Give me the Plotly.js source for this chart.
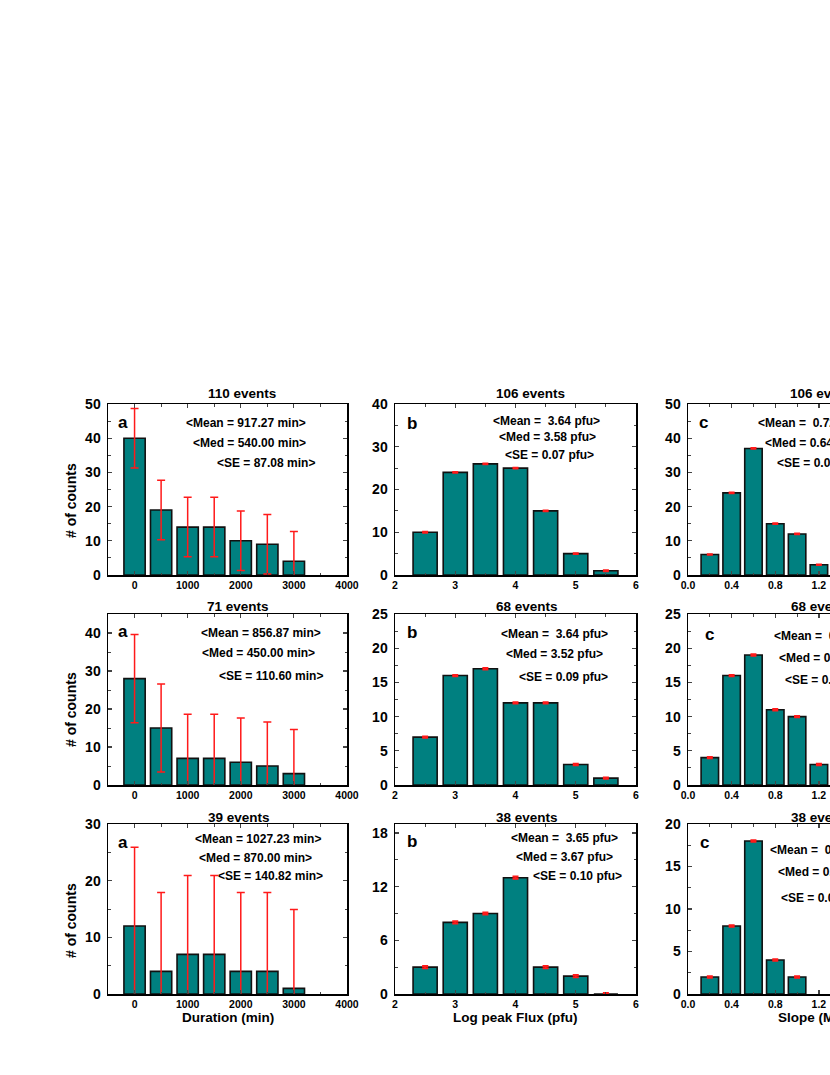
<!DOCTYPE html>
<html>
<head>
<meta charset="utf-8">
<script src="https://cdn.plot.ly/plotly-3.0.1.min.js"></script>
<style>
    html, body { margin: 0; padding: 0; overflow: hidden; background: #fff; }
</style>
</head>
<body>
<div id="chart" style="width:960px;height:1075px"></div>
<script>
// bin centres
var durationBins = [0, 500, 1000, 1500, 2000, 2500, 3000];
var fluxBins = [2.5, 3, 3.5, 4, 4.5, 5, 5.5];
var slopeBins = [0.2, 0.4, 0.6, 0.8, 1.0, 1.2, 1.4];

// row 1 (all events)
var durationCounts1 = [40, 19, 14, 14, 10, 9, 4];
var durationErr1 = [8.7, 8.7, 8.7, 8.7, 8.7, 8.7, 8.7];
var fluxCounts1 = [10, 24, 26, 25, 15, 5, 1];
var fluxErr1 = [0.1, 0.1, 0.1, 0.1, 0.1, 0.1, 0.1];
var slopeCounts1 = [6, 24, 37, 15, 12, 3, 4];
var slopeErr1 = [0.1, 0.1, 0.1, 0.1, 0.1, 0.1, 0.1];

// row 2
var durationCounts2 = [28, 15, 7, 7, 6, 5, 3];
var durationErr2 = [11.6, 11.6, 11.6, 11.6, 11.6, 11.6, 11.6];
var fluxCounts2 = [7, 16, 17, 12, 12, 3, 1];
var fluxErr2 = [0.1, 0.1, 0.1, 0.1, 0.1, 0.1, 0.1];
var slopeCounts2 = [4, 16, 19, 11, 10, 3];
var slopeErr2 = [0.1, 0.1, 0.1, 0.1, 0.1, 0.1];

// row 3
var durationCounts3 = [12, 4, 7, 7, 4, 4, 1];
var durationErr3 = [13.9, 13.9, 13.9, 13.9, 13.9, 13.9, 13.9];
var fluxCounts3 = [3, 8, 9, 13, 3, 2, 0];
var fluxErr3 = [0.12, 0.12, 0.12, 0.12, 0.12, 0.12, 0.12];
var slopeCounts3 = [2, 8, 18, 4, 2];
var slopeErr3 = [0.1, 0.1, 0.1, 0.1, 0.1];

var panelTitles = ['110 events', '106 events', '106 events',
                   '71 events', '68 events', '68 events',
                   '39 events', '38 events', '38 events'];
var panelLetters = ['a', 'b', 'c'];
var statTexts = [
    ['<Mean = 917.27 min>', '<Med = 540.00 min>', '<SE = 87.08 min>'],
    ['<Mean =  3.64 pfu>', '<Med = 3.58 pfu>', '<SE = 0.07 pfu>'],
    ['<Mean =  0.72 MHz/min>', '<Med = 0.64 MHz/min>', '<SE = 0.04 MHz/min>'],
    ['<Mean = 856.87 min>', '<Med = 450.00 min>', '<SE = 110.60 min>'],
    ['<Mean =  3.64 pfu>', '<Med = 3.52 pfu>', '<SE = 0.09 pfu>'],
    ['<Mean =  0.73 MHz/min>', '<Med = 0.62 MHz/min>', '<SE = 0.05 MHz/min>'],
    ['<Mean = 1027.23 min>', '<Med = 870.00 min>', '<SE = 140.82 min>'],
    ['<Mean =  3.65 pfu>', '<Med = 3.67 pfu>', '<SE = 0.10 pfu>'],
    ['<Mean =  0.58 MHz/min>', '<Med = 0.56 MHz/min>', '<SE = 0.03 MHz/min>']
];
var xTitles = ['Duration (min)', 'Log peak Flux (pfu)', 'Slope (MHz/min)'];
var yTitle = '# of counts';

var W = 960, H = 1075;
function fx(p) { return p / W; }
function fy(p) { return 1 - p / H; }
function esc(s) { return s.replace(/</g, '&lt;').replace(/>/g, '&gt;'); }

var FONT = 'Arial, "Liberation Sans", sans-serif';

// pixel boxes of the plot areas
var colX = [[108, 347], [395, 636], [688, 928]];
var rowY = [[404, 575], [614, 785], [824, 994]];

var panels = [
    {x: durationBins, y: durationCounts1, err: durationErr1, yr: [0, 50], dy: 10},
    {x: fluxBins, y: fluxCounts1, err: fluxErr1, yr: [0, 40], dy: 10},
    {x: slopeBins, y: slopeCounts1, err: slopeErr1, yr: [0, 50], dy: 10},
    {x: durationBins, y: durationCounts2, err: durationErr2, yr: [0, 45], dy: 10},
    {x: fluxBins, y: fluxCounts2, err: fluxErr2, yr: [0, 25], dy: 5},
    {x: slopeBins, y: slopeCounts2, err: slopeErr2, yr: [0, 25], dy: 5},
    {x: durationBins, y: durationCounts3, err: durationErr3, yr: [0, 30], dy: 10},
    {x: fluxBins, y: fluxCounts3, err: fluxErr3, yr: [0, 19], dy: 6},
    {x: slopeBins, y: slopeCounts3, err: slopeErr3, yr: [0, 20], dy: 5}
];

var cols = [
    {xr: [-500, 4000], dx: 1000, barw: 400, fmt: ''},
    {xr: [2, 6], dx: 1, barw: 0.4, fmt: ''},
    {xr: [0, 2.2], dx: 0.4, barw: 0.16, fmt: '.1f'}
];

// layout positions of the texts, in pixels
var titlePos = [[242, 394], [530, 394], [788, 394],
                [238, 606], [527, 606], [789, 606],
                [239, 817], [527, 817], [789, 817]];
var letterPos = [[116, 422], [405, 423], [697, 422],
                 [116, 631], [405, 633], [703, 634],
                 [116, 842], [405, 841], [698, 842]];
var statPos = [
    [[246, 423], [249, 443], [266, 463]],
    [[546, 421], [547, 437], [549, 455]],
    [[756, 423], [763, 443], [775, 463]],
    [[261, 633], [258, 653], [271, 676]],
    [[554, 634], [554, 654], [563, 677]],
    [[772, 636], [777, 658], [783, 680]],
    [[258, 839], [255, 858], [270, 876]],
    [[564, 838], [564, 857], [577, 876]],
    [[768, 850], [776, 872], [779, 898]]
];

var data = [];
var annotations = [];
var layout = {
    width: W,
    height: H,
    margin: {l: 0, r: 0, t: 0, b: 0},
    paper_bgcolor: '#fff',
    plot_bgcolor: '#fff',
    showlegend: false,
    hovermode: false,
    font: {family: FONT, color: '#000'}
};

function note(text, x, y, size, anchor) {
    return {
        text: esc(text),
        xref: 'paper', yref: 'paper',
        x: fx(x), y: fy(y),
        xanchor: anchor || 'center', yanchor: 'middle',
        showarrow: false,
        font: {family: FONT, size: size, color: '#000', weight: 'bold'}
    };
}

for (var i = 0; i < 9; i++) {
    var r = Math.floor(i / 3);
    var c = i % 3;
    var p = panels[i];
    var col = cols[c];
    var n = i === 0 ? '' : String(i + 1);

    data.push({
        type: 'bar',
        x: p.x,
        y: p.y,
        xaxis: 'x' + n,
        yaxis: 'y' + n,
        width: col.barw,
        marker: {color: '#008080', line: {color: '#111', width: 1.6}},
        error_y: {
            type: 'data',
            array: p.err,
            visible: true,
            color: '#ff1a1a',
            thickness: c === 0 ? 1.5 : 2,
            width: c === 0 ? 4 : 3
        }
    });

    layout['xaxis' + n] = {
        domain: [fx(colX[c][0]), fx(colX[c][1])],
        anchor: 'y' + n,
        range: col.xr,
        tick0: 0,
        dtick: col.dx,
        tickformat: col.fmt,
        ticks: 'inside',
        ticklen: 4,
        tickwidth: 1.2,
        minor: {ticks: 'inside', ticklen: 2.5, dtick: col.dx / 2, tickwidth: 1},
        showline: true,
        linewidth: 1.5,
        linecolor: '#000',
        mirror: 'ticks',
        showgrid: false,
        zeroline: false,
        fixedrange: true,
        tickfont: {family: FONT, size: 10.5, weight: 'bold'}
    };
    layout['yaxis' + n] = {
        domain: [fy(rowY[r][1]), fy(rowY[r][0])],
        anchor: 'x' + n,
        range: p.yr,
        tick0: 0,
        dtick: p.dy,
        ticks: 'inside',
        ticklen: 4,
        tickwidth: 1.2,
        minor: {ticks: 'inside', ticklen: 2.5, dtick: p.dy / 2, tickwidth: 1},
        showline: true,
        linewidth: 1.5,
        linecolor: '#000',
        mirror: 'ticks',
        showgrid: false,
        zeroline: false,
        fixedrange: true,
        ticklabelstandoff: 3,
        tickfont: {family: FONT, size: 14, weight: 'bold'}
    };

    annotations.push(note(panelTitles[i], titlePos[i][0], titlePos[i][1], 13.5,
        c === 2 ? 'left' : 'center'));
    annotations.push(note(panelLetters[c], letterPos[i][0], letterPos[i][1], 17, 'left'));
    for (var k = 0; k < 3; k++) {
        annotations.push(note(statTexts[i][k], statPos[i][k][0], statPos[i][k][1], 12,
            c === 2 ? 'left' : 'center'));
    }
}

// axis titles
annotations.push(note(xTitles[0], 228, 1017, 13.5));
annotations.push(note(xTitles[1], 515, 1017, 13.5));
annotations.push(note(xTitles[2], 776, 1017, 13.5, 'left'));
[501, 710, 921].forEach(function (yc) {
    var a = note(yTitle, 71, yc, 14);
    a.textangle = -90;
    annotations.push(a);
});

layout.annotations = annotations;

Plotly.newPlot('chart', data, layout, {displayModeBar: false, staticPlot: true});
</script>
</body>
</html>
